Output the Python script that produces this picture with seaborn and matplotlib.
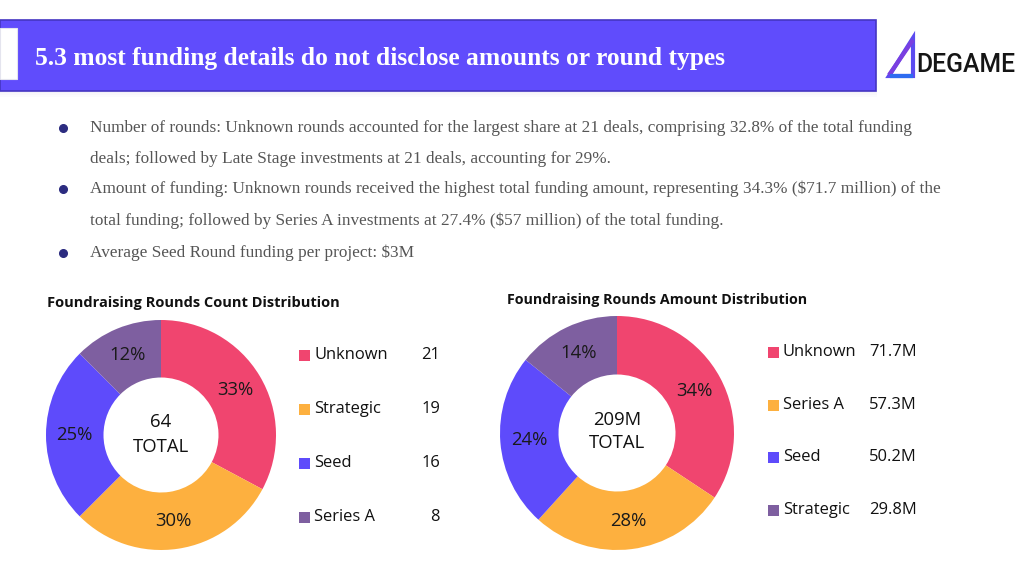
import matplotlib
matplotlib.use("Agg")
import matplotlib.pyplot as plt
import seaborn as sns
import numpy as np
from matplotlib.patches import Rectangle, Polygon

sns.set_theme(style="white")
plt.rcParams['font.family'] = ['Lato', 'DejaVu Sans']
plt.rcParams['text.parse_math'] = False

# ---------------- data ----------------
title = "5.3 most funding details do not disclose amounts or round types"
bullet_lines = [
    "Number of rounds: Unknown rounds accounted for the largest share at 21 deals, comprising 32.8% of the total funding",
    "deals; followed by Late Stage investments at 21 deals, accounting for 29%.",
    "Amount of funding: Unknown rounds received the highest total funding amount, representing 34.3% ($71.7 million) of the",
    "total funding; followed by Series A investments at 27.4% ($57 million) of the total funding.",
    "Average Seed Round funding per project: $3M",
]
bullet_flags = [True, False, True, False, True]

count_title = "Foundraising Rounds Count Distribution"
count_labels = ["Unknown", "Strategic", "Seed", "Series A"]
count_values = [21, 19, 16, 8]
count_value_labels = ["21", "19", "16", "8"]
count_pct = ["33%", "30%", "25%", "12%"]
count_total = "64"

amount_title = "Foundraising Rounds Amount Distribution"
amount_labels = ["Unknown", "Series A", "Seed", "Strategic"]
amount_values = [71.7, 57.3, 50.2, 29.8]
amount_value_labels = ["71.7M", "57.3M", "50.2M", "29.8M"]
amount_pct = ["34%", "28%", "24%", "14%"]
amount_total = "209M"

palette = sns.color_palette(["#F0456F", "#FDB03F", "#5E4BFB", "#7E5FA0"])

# ---------------- figure ----------------
W, H = 1024, 573
fig = plt.figure(figsize=(W / 100, H / 100), dpi=100)
fig.patch.set_facecolor("white")
bg = fig.add_axes([0, 0, 1, 1])
bg.set_xlim(0, W)
bg.set_ylim(H, 0)
bg.axis("off")

renderer = fig.canvas.get_renderer()


def fit(t, target_w):
    ext = t.get_window_extent(renderer=renderer)
    t.set_fontsize(t.get_fontsize() * target_w / ext.width)
    return t


def px(p):
    return p * 72 / 100

# banner
for i, a in enumerate([0.10, 0.06, 0.03]):
    bg.add_patch(Rectangle((0, 91 + i * 2), 877, 2, facecolor="#8A80C8", alpha=a, lw=0))
bg.add_patch(Rectangle((0, 20), 876, 71, facecolor="#604CFC", edgecolor="#4536C2", lw=1.2))
bg.add_patch(Rectangle((0, 28), 17, 51, facecolor="white", edgecolor="#E4E4EE", lw=0.8))
t = bg.text(35, 59, title, color="white", fontsize=16, fontweight="bold",
            family=["Liberation Serif"], ha="left", va="center")
fit(t, 693)

# logo
bg.add_patch(Polygon([[913, 38], [889, 76], [913, 76]], closed=True, fill=False,
                     edgecolor="#5B4BF0", lw=3.0, joinstyle="miter"))
bg.plot([913, 889], [40, 75], color="#7A3FE0", lw=3.0, solid_capstyle="butt")
bg.plot([890, 913], [76, 76], color="#2E6CF0", lw=3.0, solid_capstyle="butt")
t = bg.text(916, 65, "DEGAME", color="#151515", fontsize=14, fontweight="medium",
            family=["Roboto"], ha="left", va="center")
fit(t, 99)

# bullets
ys = [128, 159, 189, 221, 253]
for y, line, flag in zip(ys, bullet_lines, bullet_flags):
    if flag:
        bg.plot([63], [y], marker="o", ms=5.5, color="#2C2C80", mec="#2C2C80")
    tt = bg.text(90, y, line, color="#555555", fontsize=px(16.5),
                 family=["Liberation Serif"], ha="left", va="center")
    if line is bullet_lines[0]:
        ref = tt
fsz = ref.get_fontsize() * 820 / ref.get_window_extent(renderer=renderer).width
for tx in bg.texts:
    if tx.get_text() in bullet_lines:
        tx.set_fontsize(fsz)


def donut(cx, cy, R, values, pcts, total, ty1, ty2, title_txt, tx, tyt, tw):
    ax = fig.add_axes([(cx - R) / W, 1 - (cy + R) / H, 2 * R / W, 2 * R / H])
    wedges, _ = ax.pie(values, colors=palette, startangle=90, counterclock=False,
                       radius=1, wedgeprops=dict(width=0.5, linewidth=0))
    ax.set_xlim(-1, 1)
    ax.set_ylim(-1, 1)
    ax.axis("off")
    for w, lab in zip(wedges, pcts):
        ang = np.deg2rad((w.theta1 + w.theta2) / 2)
        ax.text(0.755 * np.cos(ang), 0.755 * np.sin(ang), lab, ha="center", va="center",
                fontsize=px(18.5), color="#1A1A1A", family=["Open Sans"])
    ax.text(0, ty1, total, ha="center", va="center", fontsize=px(18.5), color="#111111",
            family=["Open Sans"])
    ax.text(0, ty2, "TOTAL", ha="center", va="center", fontsize=px(18.5), color="#111111",
            family=["Open Sans"])
    t = bg.text(tx, tyt, title_txt, ha="left", va="center", fontsize=px(15),
                fontweight="bold", color="#111111", family=["Open Sans"])
    fit(t, tw)
    return ax


donut(161, 435, 115, count_values, count_pct, count_total, 0.11, -0.10,
      count_title, 47, 303, 293)
donut(617, 433, 117, amount_values, amount_pct, amount_total, 0.11, -0.085,
      amount_title, 507, 300, 302)


def legend(sqx, ys, labels, vals, colors, vx):
    for y, lab, v, c in zip(ys, labels, vals, colors):
        bg.add_patch(Rectangle((sqx, y - 5.5), 11, 11, facecolor=c, lw=0))
        bg.text(sqx + 15, y, lab, ha="left", va="center", fontsize=px(16.5),
                color="#111111", family=["Open Sans"])
        bg.text(vx, y, v, ha="right", va="center", fontsize=px(16.5),
                color="#111111", family=["Open Sans"])


legend(299, [355, 409, 463, 517], count_labels, count_value_labels, palette, 440)
legend(768, [352, 405, 457, 510], amount_labels, amount_value_labels, palette, 917)

fig.savefig("out.png", dpi=100, facecolor="white")
